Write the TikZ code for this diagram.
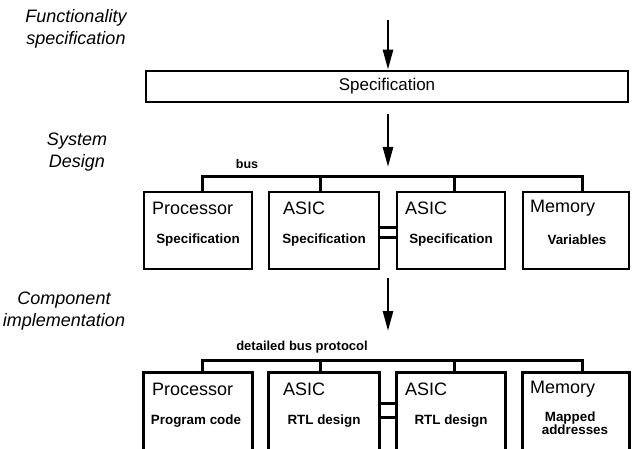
\documentclass[tikz,border=0pt]{standalone}
\usepackage{fontspec}
\setmainfont{Liberation Sans}
\usetikzlibrary{arrows.meta}
\begin{document}
\begin{tikzpicture}[x=1pt,y=-1pt,
  frame/.style={draw,line width=2.8pt,inner sep=0pt},
  openbox/.style={draw=none,inner sep=0pt},
  side/.style={line width=2.8pt},
  busline/.style={line width=3pt},
  link/.style={line width=3pt},
  arr/.style={line width=2.6pt,-{Triangle[width=10pt,length=20pt]}},
  lvl/.style={font=\fontsize{18}{22}\selectfont\itshape,align=center},
  ttl/.style={font=\fontsize{18}{20}\selectfont,anchor=west,inner sep=0pt},
  sub/.style={font=\fontsize{13.4}{12.5}\selectfont\bfseries,align=left,inner sep=0pt},
  buslbl/.style={font=\fontsize{12.5}{14}\selectfont\bfseries,inner sep=0pt}]
\useasboundingbox (0,0) rectangle (632,449);

% level labels
\node[lvl] (l1) at (76,29) {Functionality\\specification};
\node[lvl] (l2) at (77,152) {System\\Design};
\node[lvl] (l3) at (64,311) {Component\\implementation};

% top specification box
\node[frame,minimum width=482pt,minimum height=31pt] (spec) at (387,86.5)
  {\fontsize{17}{20}\selectfont Specification};

% arrows
\coordinate (a1s) at (388,20);
\draw[arr] (a1s) -- (a1s |- spec.north);
\coordinate (a2s) at (388,114);
\coordinate (a2e) at (388,167);
\draw[arr] (a2s) -- (a2e);
\coordinate (a3s) at (388,278);
\coordinate (a3e) at (388,331);
\draw[arr] (a3s) -- (a3e);

% ---------- row 1 ----------
\node[frame,minimum width=108pt,minimum height=77pt] (p1) at (198,230.5) {};
\node[frame,minimum width=110pt,minimum height=77pt] (s1) at (324,230.5) {};
\node[frame,minimum width=108pt,minimum height=77pt] (t1) at (451,230.5) {};
\node[frame,minimum width=106pt,minimum height=77pt] (m1) at (576,230.5) {};

\node[ttl] (p1t) at (152,208) {Processor};
\node[ttl] (s1t) at (283,208) {ASIC};
\node[ttl] (t1t) at (405,208) {ASIC};
\node[ttl] (m1t) at (530,208) {Memory};
\node[sub] (p1s) at (198,240) {Specification};
\node[sub] (s1s) at (324,240) {Specification};
\node[sub] (t1s) at (451,240) {Specification};
\node[sub] (m1s) at (577,240) {Variables};

\node[buslbl] (bus1) at (247,164) {bus};
\coordinate (b1a) at (202,177);
\coordinate (b1b) at (320,177);
\coordinate (b1c) at (454,177);
\coordinate (b1d) at (582,177);
\draw[busline] (b1a |- p1.north) -- (b1a) -- (b1d) -- (b1d |- m1.north);
\draw[busline] (b1b) -- (b1b |- s1.north);
\draw[busline] (b1c) -- (b1c |- t1.north);

\draw[link] ([yshift=2.5pt]s1.east) -- ([yshift=2.5pt]t1.west);
\draw[link] ([yshift=-7.5pt]s1.east) -- ([yshift=-7.5pt]t1.west);

% ---------- row 2 ----------
\node[openbox,minimum width=108pt,minimum height=76pt] (p2) at (198,411) {};
\node[openbox,minimum width=110pt,minimum height=76pt] (s2) at (324,411) {};
\node[openbox,minimum width=108pt,minimum height=76pt] (t2) at (451,411) {};
\node[openbox,minimum width=106pt,minimum height=76pt] (m2) at (576,411) {};
\foreach \b in {p2,s2,t2,m2}
  \draw[side] (\b.south west) -- (\b.north west) -- (\b.north east) -- (\b.south east);

\node[ttl] (p2t) at (152,389) {Processor};
\node[ttl] (s2t) at (283,389) {ASIC};
\node[ttl] (t2t) at (405,389) {ASIC};
\node[ttl] (m2t) at (530,389) {Memory};
\node[sub] (p2s) at (196,421) {Program code};
\node[sub] (s2s) at (324,421) {RTL design};
\node[sub] (t2s) at (451,421) {RTL design};
\node[sub] (m2s) at (575,423) {\hspace*{3pt}Mapped\\addresses};

\node[buslbl,font=\fontsize{13}{14}\selectfont\bfseries] (bus2) at (302,347) {detailed bus protocol};
\coordinate (b2a) at (202,360);
\coordinate (b2b) at (320,360);
\coordinate (b2c) at (454,360);
\coordinate (b2d) at (582,360);
\draw[busline] (b2a |- p2.north) -- (b2a) -- (b2d) -- (b2d |- m2.north);
\draw[busline] (b2b) -- (b2b |- s2.north);
\draw[busline] (b2c) -- (b2c |- t2.north);

\draw[link] ([yshift=8pt]s2.east) -- ([yshift=8pt]t2.west);
\draw[link] ([yshift=-6pt]s2.east) -- ([yshift=-6pt]t2.west);
\end{tikzpicture}
\end{document}
